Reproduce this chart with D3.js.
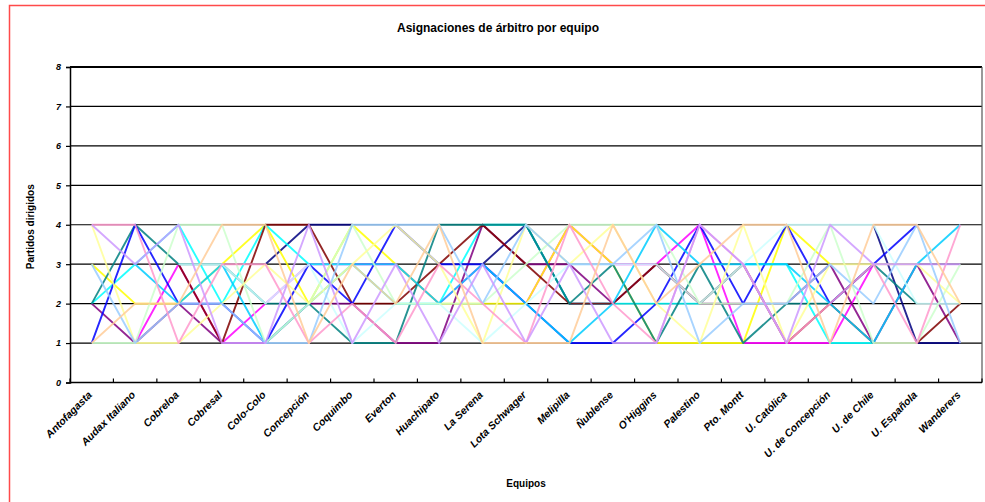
<!DOCTYPE html>
<html>
<head>
<meta charset="utf-8">
<script src="https://cdn.jsdelivr.net/npm/d3@7"></script>
<style>
  html, body { margin: 0; padding: 0; background: #fff; }
  svg { display: block; }
  .title { font-family: "Liberation Sans Narrow", "Liberation Sans", Arial, sans-serif; font-weight: bold; font-size: 12px; }
  .axis-title { font-family: "Liberation Sans", Arial, sans-serif; font-weight: bold; font-size: 10px; }
  .tick-label { font-family: "Liberation Sans", Arial, sans-serif; font-weight: bold; font-style: italic; font-size: 9px; }
  .team-label { font-family: "Liberation Sans", Arial, sans-serif; font-weight: bold; font-style: italic; font-size: 10.5px; }
</style>
</head>
<body>
<div id="chart"></div>
<script>
// Teams on the x axis
const teams = ["Antofagasta", "Audax Italiano", "Cobreloa", "Cobresal", "Colo-Colo", "Concepción",
  "Coquimbo", "Everton", "Huachipato", "La Serena", "Lota Schwager", "Melipilla", "Ñublense",
  "O'Higgins", "Palestino", "Pto. Montt", "U. Católica", "U. de Concepción", "U. de Chile",
  "U. Española", "Wanderers"];

// Y axis ticks (matches refereed per team)
const yTicks = [0, 1, 2, 3, 4, 5, 6, 7, 8];

// One series per referee: matches refereed for each team (null = none)
const arbitro01 = [null, null, null, null, 3, 4, 4, null, null, 3, 4, 2, 2, null, null, null, null, null, 4, 1, 1];
const arbitro02 = [null, 1, 3, 1, 2, 3, 3, 3, 2, 3, 2, 4, 3, 3, 4, 1, 1, 1, 3, null, null];
const arbitro03 = [3, 2, 2, 3, 4, 2, 4, 3, 2, 2, 2, 4, 3, 1, 1, 1, 4, 3, null, null, null];
const arbitro04 = [2, 3, 4, 2, 4, 3, 3, 2, 2, 4, 4, 2, 2, 2, 2, 3, 3, 1, 1, null, null];
const arbitro05 = [2, 1, 2, 1, 1, 2, 2, 1, 1, 4, 3, 3, 2, 3, 2, 2, 2, 3, 1, 3, 1];
const arbitro06 = [null, null, 3, 1, 4, 4, 2, 2, 3, 4, 3, 2, 2, 3, 2, 3, 1, 2, 1, 1, 2];
const arbitro07 = [2, 4, 3, 3, 2, 2, 1, 1, 4, 4, 4, 2, 3, 1, 3, 1, 2, 2, 3, 2, null];
const arbitro08 = [1, 4, 2, 2, 1, 3, 2, 4, 3, 3, 2, 1, 1, 2, 4, 2, 4, 2, 3, 4, null];
const arbitro09 = [null, 3, 2, 3, 1, 2, 3, 3, 2, 3, 2, 1, 2, 4, 3, 3, 3, 2, 1, 3, 4];
const arbitro10 = [null, null, 3, 3, 2, 3, 1, 2, 2, 1, 2, 3, 3, 3, 2, 3, 4, 4, 4, 2, 2];
const arbitro11 = [1, 1, 4, 4, 1, 2, 4, 2, 2, 2, 3, 4, 4, 4, 2, 2, 2, 4, 1, 1, 3];
const arbitro12 = [4, 1, 1, 2, 3, 2, 3, 4, 3, 1, 4, 3, 4, 2, 1, 4, 1, 3, 3, 3, 2];
const arbitro13 = [3, 1, 2, 2, 1, 1, 4, 4, 4, 2, 4, 3, 3, 4, 1, 2, 2, 3, 2, 4, 1];
const arbitro14 = [4, 4, 1, 3, 3, 1, 2, 1, 3, 2, 1, 4, 2, 1, 4, 3, 1, 2, 3, 1, 4];
const arbitro15 = [4, 3, 4, 1, 1, 4, 1, 3, 1, 3, 1, 3, 1, 1, 4, 3, 1, 4, 3, 3, 3];
const arbitro16 = [1, 2, 2, 4, 4, 1, 3, 2, 4, 1, 1, 1, 4, 2, 3, 4, 4, 1, 4, 4, 2];

// Line colours, in series order
const seriesColors = ["#000080", "#FF00FF", "#FFFF00", "#00FFFF", "#800080", "#800000", "#008080", "#0000FF",
  "#00CCFF", "#CCFFFF", "#CCFFCC", "#FFFF99", "#99CCFF", "#FF99CC", "#CC99FF", "#FFCC99"];

const seriesList = [arbitro01, arbitro02, arbitro03, arbitro04, arbitro05, arbitro06, arbitro07, arbitro08,
  arbitro09, arbitro10, arbitro11, arbitro12, arbitro13, arbitro14, arbitro15, arbitro16];

const W = 985, H = 502;
const plot = { left: 70, right: 982, top: 67, bottom: 382.5 };

const svg = d3.select("#chart").append("svg").attr("width", W).attr("height", H);

// Outer frame (red edges)
svg.append("path")
  .attr("d", `M9.5,${H} V5.5 H${W}`)
  .attr("fill", "none").attr("stroke", "#ff4a4a").attr("stroke-width", 1.5);

const x = d3.scaleBand().domain(teams).range([plot.left, plot.right]);
const cx = t => x(t) + x.bandwidth() / 2;
const y = d3.scaleLinear().domain([0, 8]).range([plot.bottom, plot.top]);

// Title
svg.append("text").attr("class", "title")
  .attr("x", 498).attr("y", 32).attr("text-anchor", "middle")
  .text("Asignaciones de árbitro por equipo");

// Horizontal gridlines
svg.append("g").selectAll("line").data(yTicks.filter(v => v > 0)).join("line")
  .attr("x1", plot.left).attr("x2", plot.right)
  .attr("y1", d => y(d)).attr("y2", d => y(d))
  .attr("stroke", "#000").attr("stroke-width", d => d === 8 ? 2.2 : 1.2);

// Right edge of the plot area
svg.append("line")
  .attr("x1", plot.right).attr("x2", plot.right)
  .attr("y1", y(8)).attr("y2", y(0))
  .attr("stroke", "#555").attr("stroke-width", 1.2);

// Referee lines
const line = d3.line()
  .defined(d => d != null)
  .x((d, i) => cx(teams[i]))
  .y(d => y(d));

svg.append("g").selectAll("path").data(seriesList).join("path")
  .attr("d", d => line(d))
  .attr("fill", "none")
  .attr("stroke", (d, i) => seriesColors[i])
  .attr("stroke-width", 1.9)
  .attr("stroke-opacity", 0.85)
  .attr("stroke-linejoin", "round");

// Y axis
const yAxis = svg.append("g")
  .attr("transform", `translate(${plot.left},0)`)
  .call(d3.axisLeft(y).tickValues(yTicks).tickSize(4).tickPadding(5).tickFormat(d3.format("d")));
yAxis.select(".domain").attr("stroke", "#000").attr("stroke-width", 1.5);
yAxis.selectAll(".tick line").attr("stroke", "#000").attr("stroke-width", 1.2);
yAxis.selectAll(".tick text").attr("class", "tick-label").attr("fill", "#000");

// X axis: baseline and inner tick marks at team boundaries
const boundaries = teams.map(t => x(t)).concat([plot.right]);
svg.append("line")
  .attr("x1", plot.left).attr("x2", plot.right)
  .attr("y1", y(0)).attr("y2", y(0))
  .attr("stroke", "#000").attr("stroke-width", 1.5);
svg.append("g").selectAll("line").data(boundaries).join("line")
  .attr("x1", d => d).attr("x2", d => d)
  .attr("y1", y(0)).attr("y2", y(0) - 4)
  .attr("stroke", "#000").attr("stroke-width", 1.2);

// Team labels, slanted
svg.append("g").selectAll("text").data(teams).join("text")
  .attr("class", "team-label")
  .attr("text-anchor", "end")
  .attr("transform", d => `translate(${cx(d) + 1},${y(0) + 13}) rotate(-45)`)
  .text(d => d);

// Axis titles
svg.append("text").attr("class", "axis-title")
  .attr("text-anchor", "middle")
  .attr("transform", `translate(34,${(y(0) + y(8)) / 2 + 2}) rotate(-90)`)
  .text("Partidos dirigidos");

svg.append("text").attr("class", "axis-title")
  .attr("x", (plot.left + plot.right) / 2).attr("y", 487)
  .attr("text-anchor", "middle")
  .text("Equipos");
</script>
</body>
</html>
